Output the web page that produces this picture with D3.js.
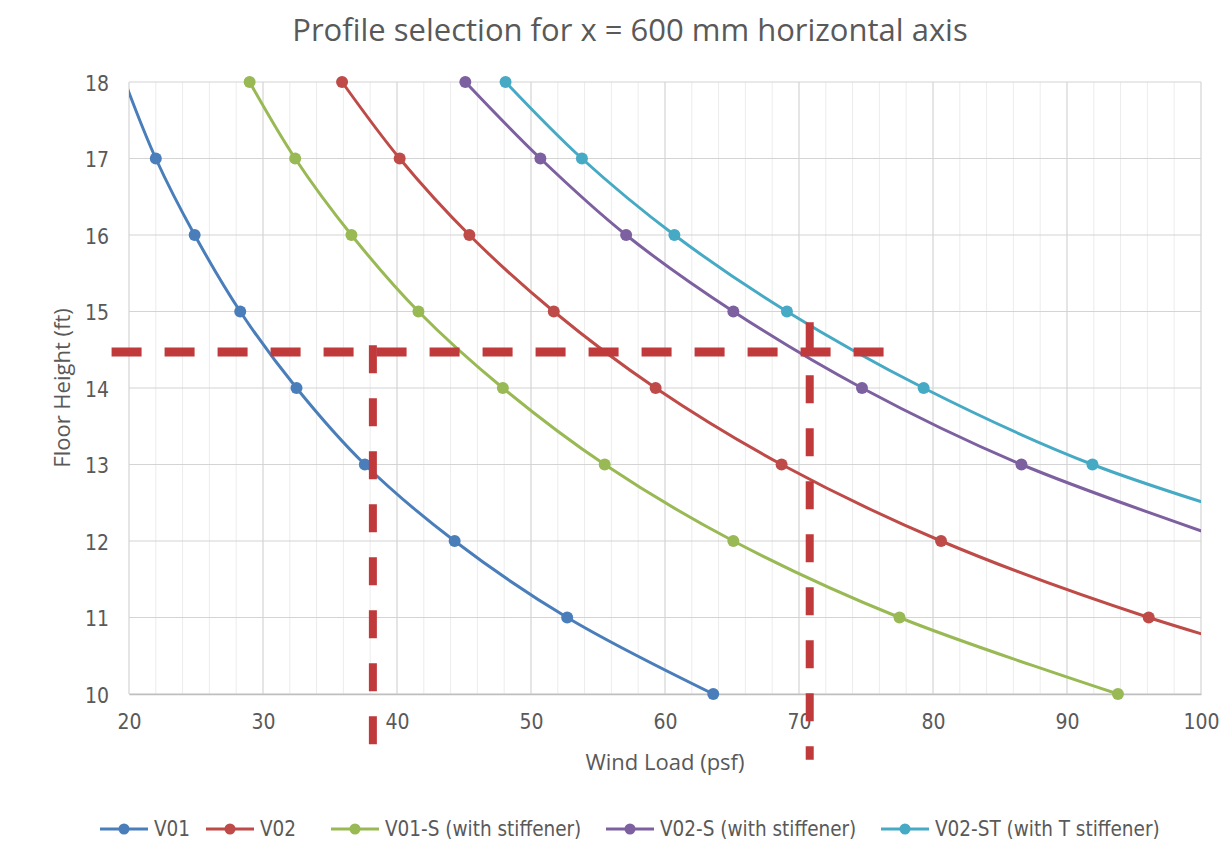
<!DOCTYPE html>
<html>
<head>
<meta charset="utf-8">
<script src="https://cdn.jsdelivr.net/npm/d3@7"></script>
<style>
  body { margin: 0; background: #fff; }
  svg text { font-family: "Open Sans", "DejaVu Sans", sans-serif; fill: #595959; }
  svg text.narrow { font-family: "DejaVu Sans Condensed", "Liberation Sans Narrow", sans-serif; }
</style>
</head>
<body>
<svg id="chart" width="1228" height="854"></svg>
<script>
// ------------------------------------
// Data
// ------------------------------------
const heights = [18, 17, 16, 15, 14, 13, 12, 11, 10];
const v01   = [19.7, 22.0, 24.9, 28.3, 32.5, 37.6, 44.3, 52.7, 63.6];
const v02   = [35.9, 40.2, 45.4, 51.7, 59.3, 68.7, 80.6, 96.1, 116];
const v01s  = [29.0, 32.4, 36.6, 41.6, 47.9, 55.5, 65.1, 77.5, 93.8];
const v02s  = [45.1, 50.7, 57.1, 65.1, 74.7, 86.6, 102.2];
const v02st = [48.1, 53.8, 60.7, 69.1, 79.3, 91.9, 109.5];

const seriesNames = ["V01", "V02", "V01-S (with stiffener)", "V02-S (with stiffener)", "V02-ST (with T stiffener)"];
const seriesLoads = [v01, v02, v01s, v02s, v02st];
const colors = ["#4a7ebb", "#be4b48", "#98b954", "#7d60a0", "#46aac5"];

const xTicks = [20, 30, 40, 50, 60, 70, 80, 90, 100];
const yTicks = [10, 11, 12, 13, 14, 15, 16, 17, 18];

// selection guides (wind load / floor height)
const guideH = { y: 14.47, x0: 18.7, x1: 78.0 };
const guideV = [
  { x: 38.2, y0: 14.56, y1: 9.27 },
  { x: 70.8, y0: 14.86, y1: 9.14 }
];

// ------------------------------------
// Layout
// ------------------------------------
const svg = d3.select("#chart");
const margin = { top: 82, right: 27, bottom: 160, left: 129 };
const width = 1228, height = 854;
const innerWidth = width - margin.left - margin.right;
const innerHeight = height - margin.top - margin.bottom;

const g = svg.append("g").attr("transform", `translate(${margin.left},${margin.top})`);

const x = d3.scaleLinear().domain([20, 100]).range([0, innerWidth]);
const y = d3.scaleLinear().domain([10, 18]).range([innerHeight, 0]);

// minor gridlines
g.append("g")
  .selectAll("line")
  .data(d3.range(22, 100, 2).filter(v => v % 10 !== 0))
  .join("line")
  .attr("x1", d => x(d)).attr("x2", d => x(d))
  .attr("y1", 0).attr("y2", innerHeight)
  .attr("stroke", "#ececec").attr("stroke-width", 1);

// major gridlines
g.append("g")
  .selectAll("line")
  .data(xTicks)
  .join("line")
  .attr("x1", d => x(d)).attr("x2", d => x(d))
  .attr("y1", 0).attr("y2", innerHeight)
  .attr("stroke", "#d4d4d4").attr("stroke-width", 1.2);

g.append("g")
  .selectAll("line")
  .data(yTicks)
  .join("line")
  .attr("x1", 0).attr("x2", innerWidth)
  .attr("y1", d => y(d)).attr("y2", d => y(d))
  .attr("stroke", "#d4d4d4").attr("stroke-width", 1.2);

// axes
const xAxis = g.append("g")
  .attr("transform", `translate(0,${innerHeight})`)
  .call(d3.axisBottom(x).tickValues(xTicks).tickSize(0))
  .attr("font-family", null).attr("font-size", null);
xAxis.select(".domain").attr("stroke", "#bfbfbf").attr("stroke-width", 1.5);
xAxis.selectAll(".tick text")
  .attr("class", "narrow")
  .attr("dy", null).attr("y", 35)
  .attr("font-size", 21);

const yAxis = g.append("g")
  .call(d3.axisLeft(y).tickValues(yTicks).tickSize(0))
  .attr("font-family", null).attr("font-size", null);
yAxis.select(".domain").remove();
yAxis.selectAll(".tick text")
  .attr("class", "narrow")
  .attr("dy", null).attr("x", -20).attr("y", 8)
  .attr("font-size", 21);

// titles
svg.append("text")
  .attr("x", 630).attr("y", 41)
  .attr("text-anchor", "middle")
  .attr("font-size", 31)
  .text("Profile selection for x = 600 mm horizontal axis");

svg.append("text")
  .attr("x", margin.left + innerWidth / 2).attr("y", 770)
  .attr("text-anchor", "middle")
  .attr("font-size", 22)
  .text("Wind Load (psf)");

svg.append("text")
  .attr("transform", `translate(70,${margin.top + innerHeight / 2}) rotate(-90)`)
  .attr("text-anchor", "middle")
  .attr("font-size", 22)
  .text("Floor Height (ft)");

// ------------------------------------
// Series
// ------------------------------------
g.append("clipPath").attr("id", "plotClip")
  .append("rect").attr("x", 0).attr("y", -8).attr("width", innerWidth).attr("height", innerHeight + 16);

const line = d3.line()
  .x(d => x(d.load))
  .y(d => y(d.h))
  .curve(d3.curveCatmullRom.alpha(0.5));

seriesLoads.forEach((loads, i) => {
  const pts = loads.map((v, j) => ({ load: v, h: heights[j] }));
  g.append("path")
    .datum(pts)
    .attr("clip-path", "url(#plotClip)")
    .attr("fill", "none")
    .attr("stroke", colors[i])
    .attr("stroke-width", 3)
    .attr("d", line);

  g.append("g")
    .selectAll("circle")
    .data(pts.filter(d => d.load >= 20 && d.load <= 100))
    .join("circle")
    .attr("cx", d => x(d.load))
    .attr("cy", d => y(d.h))
    .attr("r", 6)
    .attr("fill", colors[i]);
});

// ------------------------------------
// Selection guides
// ------------------------------------
const guideColor = "#c0393b";
g.append("line")
  .attr("x1", x(guideH.x0)).attr("x2", x(guideH.x1))
  .attr("y1", y(guideH.y)).attr("y2", y(guideH.y))
  .attr("stroke", guideColor).attr("stroke-width", 9)
  .attr("stroke-dasharray", "30 23");

g.selectAll(".guide-v")
  .data(guideV)
  .join("line")
  .attr("class", "guide-v")
  .attr("x1", d => x(d.x)).attr("x2", d => x(d.x))
  .attr("y1", d => y(d.y0)).attr("y2", d => y(d.y1))
  .attr("stroke", guideColor).attr("stroke-width", 8)
  .attr("stroke-dasharray", "28 25");

// ------------------------------------
// Legend
// ------------------------------------
const legendX = [100, 206, 331, 606, 881];
const legend = svg.append("g").attr("transform", "translate(0,829)");
seriesNames.forEach((name, i) => {
  const item = legend.append("g").attr("transform", `translate(${legendX[i]},0)`);
  item.append("line").attr("x1", 0).attr("x2", 48).attr("y1", 0).attr("y2", 0)
    .attr("stroke", colors[i]).attr("stroke-width", 3);
  item.append("circle").attr("cx", 24).attr("cy", 0).attr("r", 5.5).attr("fill", colors[i]);
  item.append("text").attr("class", "narrow").attr("x", 54).attr("y", 7)
    .attr("font-size", 20.5)
    .text(name);
});
</script>
</body>
</html>
